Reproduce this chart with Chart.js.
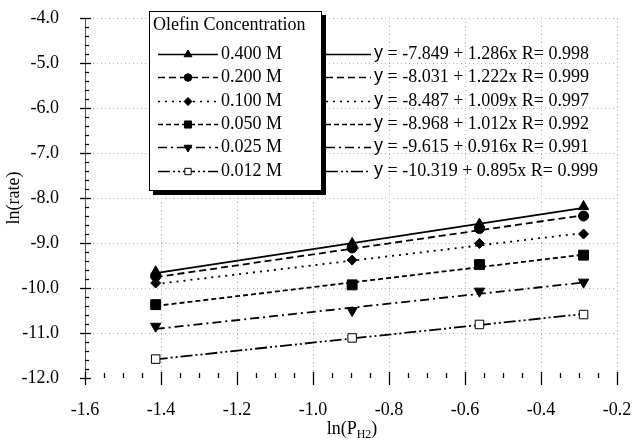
<!DOCTYPE html>
<html>
<head>
<meta charset="utf-8">
<script src="https://cdn.jsdelivr.net/npm/chart.js@4/dist/chart.umd.min.js"></script>
<style>
html,body{margin:0;padding:0;background:#fff;}
#wrap{width:637px;height:442px;}
</style>
</head>
<body>
<div id="wrap"><canvas id="c" width="637" height="442"></canvas></div>
<script>
// ---- data ----
const xValues = [-1.414, -0.897, -0.562, -0.288];          // ln(P_H2)
const concLabels = ['0.400 M', '0.200 M', '0.100 M', '0.050 M', '0.025 M', '0.012 M'];
const rate400 = [-9.64, -9.01, -8.58, -8.19];
const rate200 = [-9.74, -9.11, -8.68, -8.40];
const rate100 = [-9.89, -9.38, -9.01, -8.80];
const rate050 = [-10.37, -9.93, -9.48, -9.27];
const rate025 = [-10.85, -10.50, -10.07, -9.87];
const rate012 = [-11.58, -11.11, -10.81, -10.59];
const intercepts = [-7.849, -8.031, -8.487, -8.968, -9.615, -10.319];
const slopes = [1.286, 1.222, 1.009, 1.012, 0.916, 0.895];
const rValues = [0.998, 0.999, 0.997, 0.992, 0.991, 0.999];
const xTicks = [-1.6, -1.4, -1.2, -1.0, -0.8, -0.6, -0.4, -0.2];
const yTicks = [-12, -11, -10, -9, -8, -7, -6, -5, -4];
const legendTitle = 'Olefin Concentration';
const xTitleMain = 'ln(P';
const xTitleSub = 'H2';
const yTitle = 'ln(rate)';

const seriesValues = [rate400, rate200, rate100, rate050, rate025, rate012];

// ---- styles ----
const SERIF = '"Liberation Serif", "Times New Roman", serif';
const SANS = '"Liberation Sans", Arial, sans-serif';
const seriesStyle = [
  {dash: [], point: 'triangle', rot: 0, r: 6, fill: '#000', lr: 4.5},
  {dash: [7, 4], point: 'circle', rot: 0, r: 5, fill: '#000', lr: 3.8},
  {dash: [2, 5], point: 'rectRot', rot: 0, r: 5, fill: '#000', lr: 4},
  {dash: [5, 3], point: 'rect', rot: 0, r: 7, fill: '#000', lr: 5},
  {dash: [9, 4, 2, 4], point: 'triangle', rot: 180, r: 6, fill: '#000', lr: 4.5},
  {dash: [12, 3, 2, 3, 2, 3], point: 'rect', rot: 0, r: 6, fill: '#fff', lr: 4.5}
];

const datasets = [];
seriesValues.forEach((vals, i) => {
  const s = seriesStyle[i];
  datasets.push({
    label: concLabels[i],
    data: xValues.map((x, k) => ({x: x, y: vals[k]})),
    showLine: false,
    pointStyle: s.point,
    pointRotation: s.rot,
    pointRadius: s.r,
    pointHoverRadius: s.r,
    pointBackgroundColor: s.fill,
    pointBorderColor: '#000',
    pointBorderWidth: 1,
    order: 0
  });
  const x0 = xValues[0], x1 = xValues[xValues.length - 1];
  datasets.push({
    label: concLabels[i] + ' fit',
    data: [{x: x0, y: intercepts[i] + slopes[i] * x0}, {x: x1, y: intercepts[i] + slopes[i] * x1}],
    showLine: true,
    borderColor: '#000',
    borderWidth: 1.8,
    borderDash: s.dash,
    pointRadius: 0,
    fill: false,
    order: 1
  });
});

function line(ctx, x0, y0, x1, y1) {
  ctx.beginPath(); ctx.moveTo(x0, y0); ctx.lineTo(x1, y1); ctx.stroke();
}

function drawMarker(ctx, style, radius, x, y) {
  ctx.save();
  ctx.setLineDash([]);
  ctx.fillStyle = style.fill;
  ctx.strokeStyle = '#000';
  ctx.lineWidth = 1;
  if (Chart.helpers && Chart.helpers.drawPoint) {
    Chart.helpers.drawPoint(ctx, {pointStyle: style.point, rotation: style.rot, radius: radius, borderWidth: 1}, x, y);
  } else {
    ctx.beginPath(); ctx.arc(x, y, radius, 0, Math.PI * 2); ctx.fill(); ctx.stroke();
  }
  ctx.restore();
}

const LG = {x: 149, y: 11, w: 173, h: 180, shadow: 4, titleX: 153, titleY: 25,
            rowY0: 54, rowDy: 23.3, lineX0: 158, lineX1: 218, markX: 188, textX: 221,
            extX0: 326, extX1: 371, eqX: 374};

const decor = {
  id: 'decor',
  beforeDatasetsDraw(chart) {
    const {ctx, chartArea: a, scales: {x, y}} = chart;
    ctx.save();
    // dotted grid
    ctx.strokeStyle = '#b0b0b0';
    ctx.lineWidth = 1;
    ctx.setLineDash([1, 3]);
    xTicks.slice(1).forEach(v => {
      const px = Math.round(x.getPixelForValue(v)) + 0.5;
      line(ctx, px, a.top, px, a.bottom);
    });
    yTicks.slice(1).forEach(v => {
      const py = Math.round(y.getPixelForValue(v)) + 0.5;
      line(ctx, a.left, py, a.right, py);
    });
    ctx.setLineDash([]);
    // left axis
    ctx.strokeStyle = '#555';
    line(ctx, a.left + 0.5, a.top, a.left + 0.5, a.bottom);
    // ticks
    ctx.strokeStyle = '#000';
    ctx.lineWidth = 1.3;
    xTicks.forEach((v, i) => {
      const px = Math.round(x.getPixelForValue(v)) + 0.5;
      line(ctx, px, a.bottom - 6, px, a.bottom + 7);
      if (i < xTicks.length - 1) {
        const nv = xTicks[i + 1];
        for (let k = 1; k < 4; k++) {
          const mx = Math.round(x.getPixelForValue(v + (nv - v) * k / 4)) + 0.5;
          line(ctx, mx, a.bottom - 5, mx, a.bottom);
        }
      }
    });
    yTicks.forEach((v, i) => {
      const py = Math.round(y.getPixelForValue(v)) + 0.5;
      line(ctx, a.left - 5, py, a.left + 6, py);
      if (i < yTicks.length - 1) {
        const nv = yTicks[i + 1];
        for (let k = 1; k < 5; k++) {
          const my = Math.round(y.getPixelForValue(v + (nv - v) * k / 5)) + 0.5;
          line(ctx, a.left, my, a.left + 4, my);
        }
      }
    });
    ctx.restore();
  },
  afterDraw(chart) {
    const {ctx} = chart;
    ctx.save();
    // axis titles
    ctx.fillStyle = '#000';
    ctx.font = '18px ' + SERIF;
    ctx.textBaseline = 'alphabetic';
    const mainW = ctx.measureText(xTitleMain).width;
    ctx.font = '12px ' + SERIF;
    const subW = ctx.measureText(xTitleSub).width;
    ctx.font = '18px ' + SERIF;
    const closeW = ctx.measureText(')').width;
    const total = mainW + subW + closeW;
    const tx = 352 - total / 2;
    const tb = 434;
    ctx.textAlign = 'left';
    ctx.fillText(xTitleMain, tx, tb);
    ctx.font = '12px ' + SERIF;
    ctx.fillText(xTitleSub, tx + mainW, tb + 4);
    ctx.font = '18px ' + SERIF;
    ctx.fillText(')', tx + mainW + subW, tb);

    ctx.save();
    ctx.translate(14, 198);
    ctx.rotate(-Math.PI / 2);
    ctx.textAlign = 'center';
    ctx.textBaseline = 'middle';
    ctx.fillText(yTitle, 0, 0);
    ctx.restore();

    // legend box with shadow
    ctx.fillStyle = '#000';
    ctx.fillRect(LG.x + LG.shadow, LG.y + LG.shadow, LG.w, LG.h);
    ctx.fillStyle = '#fff';
    ctx.fillRect(LG.x, LG.y, LG.w, LG.h);
    ctx.strokeStyle = '#000';
    ctx.lineWidth = 1;
    ctx.strokeRect(LG.x + 0.5, LG.y + 0.5, LG.w - 1, LG.h - 1);

    ctx.fillStyle = '#000';
    ctx.font = '18px ' + SERIF;
    ctx.textAlign = 'left';
    ctx.textBaseline = 'middle';
    ctx.fillText(legendTitle, LG.titleX, LG.titleY);

    concLabels.forEach((lab, i) => {
      const s = seriesStyle[i];
      const ry = Math.round(LG.rowY0 + i * LG.rowDy) + 0.5;
      ctx.strokeStyle = '#000';
      ctx.lineWidth = 1.5;
      ctx.setLineDash(s.dash);
      line(ctx, LG.lineX0, ry, LG.lineX1, ry);
      line(ctx, LG.extX0, ry, LG.extX1, ry);
      ctx.setLineDash([]);
      drawMarker(ctx, s, s.lr, LG.markX, ry);
      ctx.fillStyle = '#000';
      ctx.font = '18px ' + SERIF;
      ctx.fillText(lab, LG.textX, ry);
      // equation
      ctx.font = '18px ' + SANS;
      ctx.fillText('y', LG.eqX, ry - 1);
      const yw = ctx.measureText('y').width;
      ctx.font = '18px ' + SERIF;
      const eq = ' = ' + intercepts[i].toFixed(3) + ' + ' + slopes[i].toFixed(3) + 'x R= ' + rValues[i].toFixed(3);
      ctx.fillText(eq, LG.eqX + yw, ry);
    });
    ctx.restore();
  }
};

new Chart(document.getElementById('c'), {
  type: 'scatter',
  data: {datasets: datasets},
  options: {
    responsive: false,
    animation: false,
    devicePixelRatio: 1,
    layout: {padding: {left: 0, top: 18, right: 20, bottom: 0}},
    plugins: {legend: {display: false}, tooltip: {enabled: false}, title: {display: false}},
    scales: {
      x: {
        type: 'linear',
        min: -1.6, max: -0.2,
        afterBuildTicks: s => { s.ticks = xTicks.map(v => ({value: v})); },
        afterFit: s => { s.height = 64; s.paddingLeft = 0; s.paddingRight = 0; },
        grid: {display: false},
        border: {display: false},
        ticks: {
          autoSkip: false, maxRotation: 0, padding: 13,
          color: '#000',
          font: {family: SERIF, size: 18},
          callback: v => Number(v).toFixed(1)
        }
      },
      y: {
        type: 'linear',
        min: -12, max: -4,
        afterBuildTicks: s => { s.ticks = yTicks.map(v => ({value: v})); },
        afterFit: s => { s.width = 85; s.paddingTop = 0; s.paddingBottom = 0; },
        grid: {display: false},
        border: {display: false},
        ticks: {
          autoSkip: false, padding: 18,
          color: '#000',
          font: {family: SERIF, size: 18},
          callback: v => Number(v).toFixed(1)
        }
      }
    }
  },
  plugins: [decor]
});
</script>
</body>
</html>
